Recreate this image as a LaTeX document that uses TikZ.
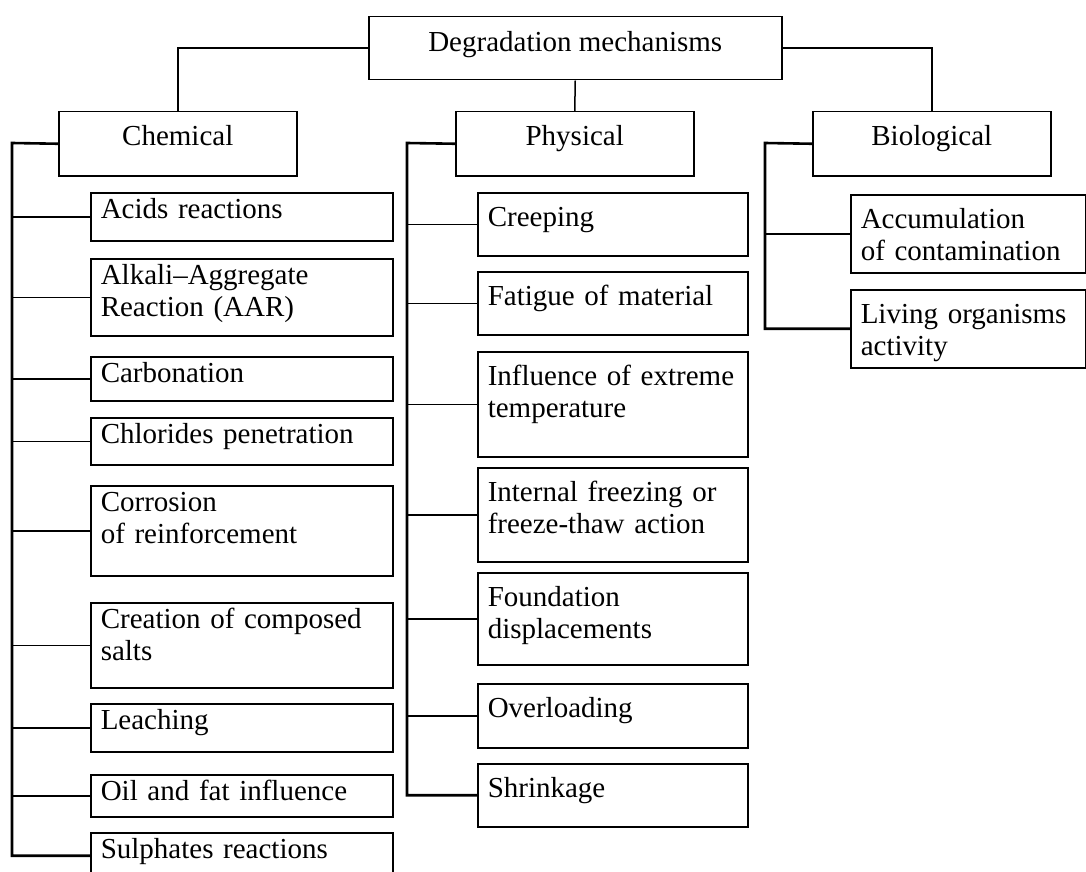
\documentclass[tikz,border=0pt]{standalone}
\usepackage{fontspec}
\setmainfont{Liberation Serif}

\begin{document}
\begin{tikzpicture}[x=0.5pt,y=-0.5pt,
    every node/.style={font=\fontsize{14.5}{16}\selectfont},
    cat/.style={draw,line width=0.75pt,anchor=north west,minimum width=119pt,inner sep=0pt,text height=17pt,text depth=15pt},
    leaf/.style={draw,line width=0.75pt,anchor=north west,align=left,inner xsep=5pt,inner ysep=0pt,text height=#1},
    leaf/.default=13pt,
    chemleaf/.style={leaf,text width=141pt},
    physleaf/.style={leaf=17pt,text width=125pt},
    bioleaf/.style={leaf=17pt,text width=107.5pt},
    rail/.style={line width=1.3pt},
    link/.style={line width=0.75pt}]

  \useasboundingbox (0,0) rectangle (1086,872);

  % top level
  \node[cat,minimum width=206.5pt,text height=17.5pt,text depth=14pt] (deg) at (368,16) {Degradation mechanisms};
  \node[cat] (chem) at (58,111) {Chemical};
  \node[cat] (phys) at (455,111) {Physical};
  \node[cat] (bio)  at (812,111) {Biological};

  % chemical
  \node[chemleaf,text depth=11pt]   (acids)  at (90,192) {Acids reactions};
  \node[chemleaf,text depth=25.5pt] (alkali) at (90,258) {Alkali--Aggregate\\Reaction (AAR)};
  \node[chemleaf,text depth=9pt]    (carbon) at (90,356) {Carbonation};
  \node[chemleaf,text depth=10.5pt] (chlor)  at (90,417) {Chlorides penetration};
  \node[chemleaf,text depth=32pt]   (corr)   at (90,485) {Corrosion\\of reinforcement};
  \node[chemleaf,text depth=29.5pt] (salts)  at (90,602) {Creation of composed\\salts};
  \node[chemleaf,text depth=11pt]   (leach)  at (90,703) {Leaching};
  \node[chemleaf,text depth=8pt]    (oil)    at (90,774) {Oil and fat influence};
  \node[chemleaf,text depth=10pt]   (sulph)  at (90,832) {Sulphates reactions};

  % physical
  \node[physleaf,text depth=14.5pt] (creep)  at (477,192) {Creeping};
  \node[physleaf,text depth=14.5pt] (fatig)  at (477,271) {Fatigue of material};
  \node[physleaf,text depth=35.5pt] (temp)   at (477,351) {Influence of extreme\\temperature};
  \node[physleaf,text depth=30pt]   (freeze) at (477,467) {Internal freezing or\\freeze-thaw action};
  \node[physleaf,text depth=29pt]   (found)  at (477,572) {Foundation\\displacements};
  \node[physleaf,text depth=15pt]   (overl)  at (477,683) {Overloading};
  \node[physleaf,text depth=14.5pt] (shrink) at (477,763) {Shrinkage};

  % biological
  \node[bioleaf,text depth=22pt] (accum)  at (850,194) {Accumulation\\of contamination};
  \node[bioleaf,text depth=22pt] (living) at (850,289) {Living organisms\\activity};

  \draw[link] (deg.west) -| (chem.north);
  \draw[link] (deg.south) -- (phys.north);
  \draw[link] (deg.east) -| (bio.north);

  \coordinate (chemrail) at (12,143);
  \coordinate (physrail) at (407,143);
  \coordinate (biorail)  at (765,143);

  \draw[rail] (chem.west) -- (chemrail) |- (sulph.west);
  \draw[link] (chemrail |- acids.west) -- (acids.west);
  \draw[link] (chemrail |- alkali.west) -- (alkali.west);
  \draw[link] (chemrail |- carbon.west) -- (carbon.west);
  \draw[link] (chemrail |- chlor.west) -- (chlor.west);
  \draw[link] (chemrail |- corr.west) -- (corr.west);
  \draw[link] (chemrail |- salts.west) -- (salts.west);
  \draw[link] (chemrail |- leach.west) -- (leach.west);
  \draw[link] (chemrail |- oil.west) -- (oil.west);

  \draw[rail] (phys.west) -- (physrail) |- (shrink.west);
  \draw[link] (physrail |- creep.west) -- (creep.west);
  \draw[link] (physrail |- fatig.west) -- (fatig.west);
  \draw[link] (physrail |- temp.west) -- (temp.west);
  \draw[link] (physrail |- freeze.west) -- (freeze.west);
  \draw[link] (physrail |- found.west) -- (found.west);
  \draw[link] (physrail |- overl.west) -- (overl.west);

  \draw[rail] (bio.west) -- (biorail) |- (living.west);
  \draw[link] (biorail |- accum.west) -- (accum.west);
\end{tikzpicture}
\end{document}
